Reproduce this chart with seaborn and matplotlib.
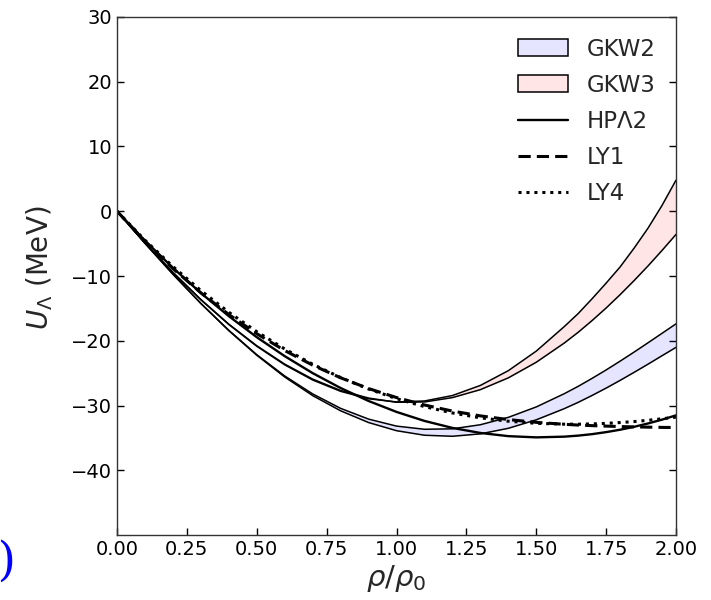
import numpy as np
import pandas as pd
import matplotlib
matplotlib.use("Agg")
import matplotlib.pyplot as plt
from matplotlib.patches import Patch
from matplotlib.lines import Line2D
import seaborn as sns

rho = [0.0, 0.1, 0.2, 0.3, 0.4, 0.5, 0.6, 0.7, 0.8, 0.9, 1.0,
       1.1, 1.2, 1.3, 1.4, 1.5, 1.6, 1.65, 1.7, 1.75, 1.8, 1.85, 1.9, 1.95, 2.0]

gkw2_hi = [0.0, -4.95, -9.72, -14.23, -18.39, -22.15, -25.44, -28.21, -30.44, -32.10, -33.18,
           -33.67, -33.60, -32.97, -31.83, -30.22, -28.18, -27.04, -25.80, -24.51, -23.15,
           -21.75, -20.31, -18.85, -17.39]
gkw2_lo = [0.0, -4.95, -9.72, -14.25, -18.44, -22.24, -25.60, -28.47, -30.82, -32.63, -33.89,
           -34.59, -34.75, -34.38, -33.52, -32.21, -30.49, -29.51, -28.44, -27.31, -26.12,
           -24.88, -23.61, -22.31, -21.02]
gkw3_hi = [0.0, -4.87, -9.45, -13.67, -17.49, -20.85, -23.72, -26.06, -27.81, -28.96, -29.45,
           -29.30, -28.46, -26.90, -24.62, -21.60, -17.82, -15.80, -13.50, -11.10, -8.60,
           -5.70, -2.60, 0.90, 4.80]
gkw3_lo = [0.0, -4.87, -9.44, -13.64, -17.44, -20.77, -23.61, -25.92, -27.68, -28.85, -29.50,
           -29.45, -28.78, -27.55, -25.73, -23.32, -20.36, -18.69, -16.87, -14.94, -12.88,
           -10.71, -8.44, -6.05, -3.58]
hpl2 = [0.0, -4.54, -8.75, -12.63, -16.20, -19.45, -22.38, -25.00, -27.30, -29.30, -30.99,
        -32.38, -33.46, -34.24, -34.73, -34.92, -34.81, -34.65, -34.42, -34.11, -33.74,
        -33.29, -32.77, -32.18, -31.52]
ly1 = [0.0, -4.65, -8.84, -12.60, -15.95, -18.91, -21.51, -23.77, -25.72, -27.38, -28.77,
       -29.92, -30.86, -31.60, -32.17, -32.60, -32.90, -33.02, -33.11, -33.18, -33.25,
       -33.30, -33.34, -33.38, -33.40]
ly4 = [0.0, -4.47, -8.54, -12.25, -15.60, -18.60, -21.27, -23.63, -25.68, -27.45, -28.94,
       -30.17, -31.15, -31.90, -32.43, -32.75, -32.88, -32.89, -32.84, -32.76, -32.63,
       -32.48, -32.28, -32.05, -31.79]

x_ticks = [0.0, 0.25, 0.5, 0.75, 1.0, 1.25, 1.5, 1.75, 2.0]
y_ticks = [-40, -30, -20, -10, 0, 10, 20, 30]

sns.set_style("ticks")
plt.rcParams['font.family'] = ['DejaVu Sans']
plt.rcParams['mathtext.fontset'] = 'dejavusans'

fig = plt.figure(figsize=(7.11, 6.0), dpi=100)
ax = fig.add_axes([0.1646, 0.1083, 0.7862, 0.8634])

df = pd.DataFrame({"rho": rho, "gkw2_hi": gkw2_hi, "gkw2_lo": gkw2_lo,
                   "gkw3_hi": gkw3_hi, "gkw3_lo": gkw3_lo,
                   "hpl2": hpl2, "ly1": ly1, "ly4": ly4})

blue_fill = (0.0, 0.0, 1.0, 0.1)
red_fill = (1.0, 0.0, 0.0, 0.1)

ax.fill_between(df["rho"], df["gkw2_lo"], df["gkw2_hi"], color=blue_fill, lw=0)
ax.fill_between(df["rho"], df["gkw3_lo"], df["gkw3_hi"], color=red_fill, lw=0)
for col in ["gkw2_hi", "gkw2_lo", "gkw3_hi", "gkw3_lo"]:
    sns.lineplot(data=df, x="rho", y=col, ax=ax, color="black", lw=1.1)
sns.lineplot(data=df, x="rho", y="hpl2", ax=ax, color="black", lw=1.7)
sns.lineplot(data=df, x="rho", y="ly1", ax=ax, color="black", lw=2.2, linestyle=(0, (4, 2)))
sns.lineplot(data=df, x="rho", y="ly4", ax=ax, color="black", lw=2.2, linestyle=(0, (1, 1.6)))

ax.set_xlim(0, 2)
ax.set_ylim(-50, 30)
ax.set_xticks(x_ticks)
ax.set_xticklabels([f"{v:.2f}" for v in x_ticks])
ax.set_yticks(y_ticks)
ax.set_yticklabels([f"{v}".replace("-", "\u2212") for v in y_ticks])
ax.tick_params(direction="in", length=5, width=1, labelsize=14, right=True, top=False,
               colors="black")
for s in ax.spines.values():
    s.set_linewidth(1.0)
    s.set_color("#333333")

ax.set_xlabel(r"$\rho/\rho_0$", fontsize=21, labelpad=3)
ax.set_ylabel(r"$U_\Lambda$ (MeV)", fontsize=20)
ax.yaxis.set_label_coords(-0.111, 0.515)

handles = [
    Patch(facecolor=blue_fill, edgecolor="black", lw=1.1, label="GKW2"),
    Patch(facecolor=red_fill, edgecolor="black", lw=1.1, label="GKW3"),
    Line2D([], [], color="black", lw=1.7, label="HP\u039b2"),
    Line2D([], [], color="black", lw=2.2, linestyle=(0, (4, 2)), label="LY1"),
    Line2D([], [], color="black", lw=2.2, linestyle=(0, (1, 1.6)), label="LY4"),
]
ax.legend(handles=handles, loc="upper right", frameon=False, fontsize=16.5,
          handlelength=2.2, handleheight=0.75, labelspacing=0.57, handletextpad=0.8,
          borderaxespad=0.5)

fig.text(16 / 711, 1 - 562 / 600, "(a)", color="blue", fontsize=34,
         family="DejaVu Serif", ha="right", va="center")

fig.savefig("out.png", dpi=100)
